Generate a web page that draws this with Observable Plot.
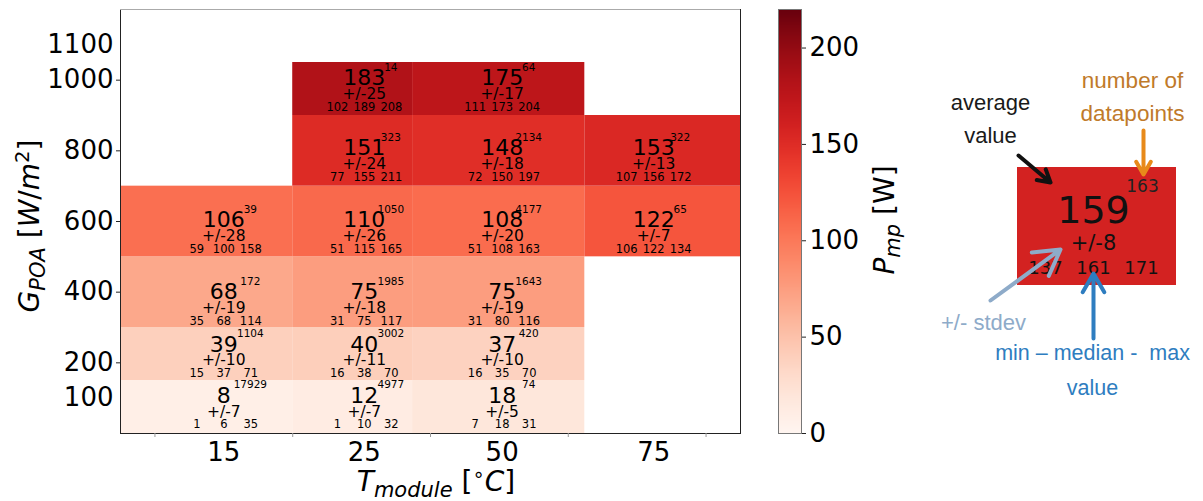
<!DOCTYPE html>
<html><head><meta charset="utf-8">
<script src="https://cdn.jsdelivr.net/npm/d3@7"></script>
<script src="https://cdn.jsdelivr.net/npm/@observablehq/plot@0.6"></script>
<style>
body{margin:0;background:#fff;font-family:"DejaVu Sans",sans-serif;}
#wrap{position:relative;width:1203px;height:501px;overflow:hidden;background:#fff;}
#wrap > svg, #wrap > figure{position:absolute;margin:0;}
.title{position:absolute;font-size:28px;white-space:nowrap;color:#000;line-height:1;transform:translate(-50%,-50%);}
.title.rot{transform:translate(-50%,-50%) rotate(-90deg);}
.title sub{font-size:0.75em;vertical-align:-0.3em;line-height:0;}
.title sup{font-size:0.7em;vertical-align:0.5em;line-height:0;}
</style></head><body><div id="wrap"></div>
<script>
// ---- data ----
const tempLabels = ["15", "25", "50", "75"];
const tempLabelPos = [0.5, 1.52, 2.52, 3.62];
const tempTickPos = [0, 1, 2, 3, 4];
const colLo = [-0.25, 1, 1.87, 3.12];
const colHi = [1, 1.87, 3.12, 4.25];
const gTicks = [100, 200, 400, 600, 800, 1000, 1100];
const gMajorTicks = [200, 400, 600, 800, 1000];
const rowLo = [0, 150, 300, 500, 700, 900];
const rowHi = [150, 300, 500, 700, 900, 1050];
const rowTextG = [107, 252, 400, 603, 807, 1005];
const cellCol = [0, 0, 0, 0, 1, 1, 1, 1, 1, 1, 2, 2, 2, 2, 2, 2, 3, 3];
const cellRow = [0, 1, 2, 3, 0, 1, 2, 3, 4, 5, 0, 1, 2, 3, 4, 5, 3, 4];
const avgP = [8, 39, 68, 106, 12, 40, 75, 110, 151, 183, 18, 37, 75, 108, 148, 175, 122, 153];
const stdP = [7, 10, 19, 28, 7, 11, 18, 26, 24, 25, 5, 10, 19, 20, 18, 17, 7, 13];
const minP = [1, 15, 35, 59, 1, 16, 31, 51, 77, 102, 7, 16, 31, 51, 72, 111, 106, 107];
const medP = [6, 37, 68, 100, 10, 38, 75, 115, 155, 189, 18, 35, 80, 108, 150, 173, 122, 156];
const maxP = [35, 71, 114, 158, 32, 70, 117, 165, 211, 208, 31, 70, 116, 163, 197, 204, 134, 172];
const nPts = [17929, 1104, 172, 39, 4977, 3002, 1985, 1050, 323, 14, 74, 420, 1643, 4177, 2134, 64, 65, 322];
const colorTicks = [0, 50, 100, 150, 200];
const colorMax = 220;
const exampleCell = [{avg: 159, std: 8, min: 137, med: 161, max: 171, n: 163}];

// ---- build ----
const cells = avgP.map((v, i) => ({
  x1: colLo[cellCol[i]], x2: colHi[cellCol[i]],
  y1: rowLo[cellRow[i]], y2: rowHi[cellRow[i]],
  xm: tempLabelPos[cellCol[i]], ym: rowTextG[cellRow[i]],
  avg: v, std: stdP[i], min: minP[i], med: medP[i], max: maxP[i], n: nPts[i]
}));
const color = {type: "linear", scheme: "reds", domain: [0, colorMax]};
const FONT = "DejaVu Sans";
const wrap = document.getElementById("wrap");

const main = Plot.plot({
  width: 760, height: 470,
  marginLeft: 120, marginRight: 20, marginTop: 9, marginBottom: 37,
  x: {domain: [-0.25, 4.25], axis: null},
  y: {domain: [0, 1200], axis: null},
  color,
  style: {fontFamily: FONT, background: "white", overflow: "visible"},
  marks: [
    Plot.rect(cells, {x1: "x1", x2: "x2", y1: "y1", y2: "y2", fill: "avg"}),
    Plot.text(cells, {x: "xm", y: "ym", text: d => String(d.avg), fontSize: 22, fill: "black"}),
    Plot.text(cells, {x: "xm", y: "ym", text: d => "+/-" + d.std, fontSize: 15.5, dy: 16, fill: "black"}),
    Plot.text(cells, {x: "xm", y: "ym", text: d => String(d.min), fontSize: 11.5, dy: 29, dx: -27, fill: "black"}),
    Plot.text(cells, {x: "xm", y: "ym", text: d => String(d.med), fontSize: 11.5, dy: 29, dx: 0, fill: "black"}),
    Plot.text(cells, {x: "xm", y: "ym", text: d => String(d.max), fontSize: 11.5, dy: 29, dx: 27, fill: "black"}),
    Plot.text(cells, {x: "xm", y: "ym", text: d => String(d.n), fontSize: 10.5, dy: -11, dx: 26.5, fill: "black"}),
    Plot.frame({stroke: "#222"}),
    Plot.ruleY([1200], {stroke: "#aaa"}),
    Plot.axisY(gMajorTicks, {tickSize: 4, tickFormat: () => "", stroke: "#222"}),
    Plot.axisY(gTicks, {tickSize: 0, tickPadding: 7, fontSize: 26, tickFormat: d => String(d), fill: "black"}),
    Plot.axisX(tempTickPos, {tickSize: 4, tickFormat: () => "", stroke: "#999"}),
    Plot.text(tempLabels, {x: (d, i) => tempLabelPos[i], frameAnchor: "bottom", lineAnchor: "middle", dy: 19, fontSize: 26, fill: "black"})
  ]
});
main.style.left = "0px"; main.style.top = "0px";
wrap.appendChild(main);

const steps = d3.range(0, colorMax, 0.5);
const cbar = Plot.plot({
  width: 120, height: 470,
  marginLeft: 18, marginRight: 79, marginTop: 9, marginBottom: 37,
  x: {domain: [0, 1], axis: null},
  y: {domain: [0, colorMax], axis: null},
  color,
  style: {fontFamily: FONT, background: "transparent", overflow: "visible"},
  marks: [
    Plot.rect(steps, {x1: 0, x2: 1, y1: d => d, y2: d => d + 0.5, fill: d => d + 0.25, shapeRendering: "crispEdges"}),
    Plot.frame({stroke: "#777"}),
    Plot.axisY(colorTicks, {anchor: "right", tickSize: 4, tickPadding: 4, fontSize: 26, tickFormat: d => String(d), fill: "black", stroke: "#222"})
  ]
});
cbar.style.left = "760px"; cbar.style.top = "0px";
wrap.appendChild(cbar);

// ---- annotated example cell (legend) ----
const SANS = "Liberation Sans, Arial, sans-serif";
const ann = Plot.plot({
  width: 303, height: 420,
  margin: 0,
  x: {domain: [900, 1203], range: [0, 303], axis: null},
  y: {domain: [0, 420], range: [0, 420], axis: null},
  color,
  style: {fontFamily: FONT, background: "transparent", overflow: "visible"},
  marks: [
    Plot.rect(exampleCell, {x1: 1017, x2: 1176, y1: 167, y2: 285, fill: "avg"}),
    Plot.text(exampleCell, {x: 1093, y: 210, text: d => String(d.avg), fontSize: 38, fill: "#111"}),
    Plot.text(exampleCell, {x: 1142, y: 186, text: d => String(d.n), fontSize: 17, fill: "#222"}),
    Plot.text(exampleCell, {x: 1093, y: 243, text: d => "+/-" + d.std, fontSize: 21, fill: "#111"}),
    Plot.text(exampleCell, {x: 1045, y: 268, text: d => String(d.min), fontSize: 18, fill: "#111"}),
    Plot.text(exampleCell, {x: 1093, y: 268, text: d => String(d.med), fontSize: 18, fill: "#111"}),
    Plot.text(exampleCell, {x: 1141, y: 268, text: d => String(d.max), fontSize: 18, fill: "#111"}),
    Plot.text(["average", "value"], {x: 990, y: (d, i) => 102 + 33 * i, fontSize: 22, fontFamily: SANS, fill: "#1a1a1a"}),
    Plot.text(["number of", "datapoints"], {x: 1132, y: (d, i) => 80 + 33 * i, fontSize: 22.5, fontFamily: SANS, fill: "#c07a2a"}),
    Plot.text(["+/- stdev"], {x: 983, y: 322, fontSize: 22, fontFamily: SANS, fill: "#8eabc9"}),
    Plot.text(["min \u2013 median -  max", "value"], {x: 1092, y: (d, i) => 353 + 35 * i, fontSize: 21.5, fontFamily: SANS, fill: "#2e7dc0"}),
    Plot.arrow([{x1: 1018, y1: 155, x2: 1050, y2: 182}], {x1: "x1", y1: "y1", x2: "x2", y2: "y2", stroke: "#111", strokeWidth: 4, headLength: 11}),
    Plot.arrow([{x1: 1143, y1: 130, x2: 1143, y2: 174}], {x1: "x1", y1: "y1", x2: "x2", y2: "y2", stroke: "#e88a1a", strokeWidth: 4, headLength: 11}),
    Plot.arrow([{x1: 990, y1: 300, x2: 1060, y2: 249}], {x1: "x1", y1: "y1", x2: "x2", y2: "y2", stroke: "#8eabc9", strokeWidth: 4, headLength: 11}),
    Plot.arrow([{x1: 1093, y1: 338, x2: 1093, y2: 273}], {x1: "x1", y1: "y1", x2: "x2", y2: "y2", stroke: "#2e7dc0", strokeWidth: 4, headLength: 11})
  ]
});
ann.style.left = "900px"; ann.style.top = "0px";
wrap.appendChild(ann);

// ---- axis titles ----
function title(html, x, y, rot) {
  const d = document.createElement("div");
  d.className = "title" + (rot ? " rot" : "");
  d.style.left = x + "px"; d.style.top = y + "px";
  d.innerHTML = html;
  wrap.appendChild(d);
}
title('<i>G</i><sub><i>POA</i></sub> [<i>W</i>/<i>m</i><sup>2</sup>]', 30, 226, true);
title('<i>T</i><sub><i>module</i></sub> [<sup>\u2218</sup><i>C</i>]', 436, 482, false);
title('<i>P</i><sub><i>mp</i></sub> [W]', 885, 220, true);
</script>
</body></html>
